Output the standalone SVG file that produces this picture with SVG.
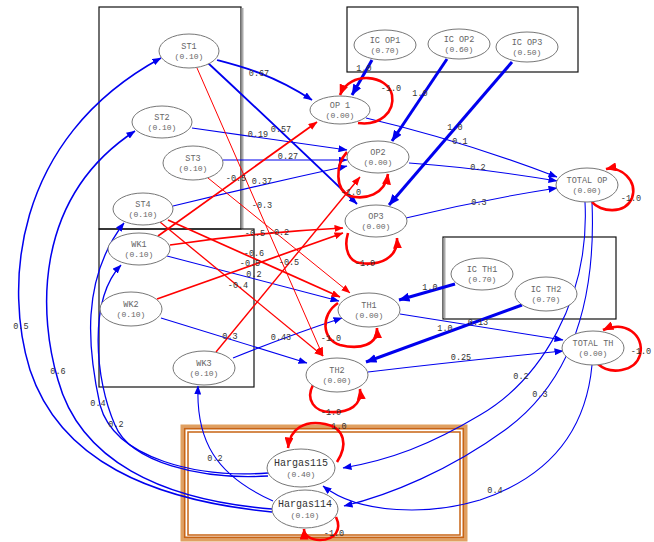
<svg xmlns="http://www.w3.org/2000/svg" width="654" height="542" viewBox="0 0 654 542">
<defs>
<marker id="ab" markerUnits="userSpaceOnUse" markerWidth="9" markerHeight="7" refX="8.5" refY="3.5" orient="auto"><path d="M0,0 L9,3.5 L0,7 z" fill="#0000ee"/></marker>
<marker id="abL" markerUnits="userSpaceOnUse" markerWidth="11" markerHeight="9" refX="10.5" refY="4.5" orient="auto"><path d="M0,0 L11,4.5 L0,9 z" fill="#0000ee"/></marker>
<marker id="ar" markerUnits="userSpaceOnUse" markerWidth="9" markerHeight="7" refX="8.5" refY="3.5" orient="auto"><path d="M0,0 L9,3.5 L0,7 z" fill="#ff0000"/></marker>
<marker id="arL" markerUnits="userSpaceOnUse" markerWidth="11" markerHeight="9" refX="10.5" refY="4.5" orient="auto"><path d="M0,0 L11,4.5 L0,9 z" fill="#ff0000"/></marker>
</defs>
<style>
.box{fill:none;stroke:#111;stroke-width:1.2}
.n ellipse{fill:#fff;stroke:#777;stroke-width:1}
.n text{font-family:"Liberation Mono",monospace;font-size:8.5px;fill:#666;text-anchor:middle}
.n text.v{font-size:8px}
.n text.h{font-size:10px;fill:#333}
.b{fill:none;stroke:#0000ee;stroke-width:1.1;marker-end:url(#ab)}
.bm{fill:none;stroke:#0000ee;stroke-width:1.8;marker-end:url(#ab)}
.bt{fill:none;stroke:#0000ee;stroke-width:3;marker-end:url(#abL)}
.r{fill:none;stroke:#ff0000;stroke-width:1;marker-end:url(#ar)}
.rm{fill:none;stroke:#ff0000;stroke-width:1.7;marker-end:url(#ar)}
.rl{fill:none;stroke:#ff0000;stroke-width:2.6;marker-end:url(#arL)}
.lb text{font-family:"Liberation Mono",monospace;font-size:8.5px;fill:#333;text-anchor:middle}
</style>
<rect width="654" height="542" fill="#fff"/>
<g id="boxes">
<rect class="box" x="99" y="7" width="142" height="222"/>
<line x1="242.5" y1="8" x2="242.5" y2="229" stroke="#aaa" stroke-width="2"/>
<rect class="box" x="99" y="229" width="155" height="158"/>
<rect class="box" x="347" y="7" width="231" height="65"/>
<rect class="box" x="443" y="237" width="173" height="82"/>
<line x1="444.5" y1="238" x2="444.5" y2="318" stroke="#aaa" stroke-width="2"/>
<rect x="182" y="426" width="284" height="114" fill="none" stroke="#e0a060" stroke-width="3"/>
<rect x="184.5" y="428.5" width="279" height="109" fill="none" stroke="#c86414" stroke-width="2"/>
<rect x="188" y="432" width="272" height="103" fill="none" stroke="#c86414" stroke-width="1.5"/>
</g>
<g id="connectors">
<path class="bm" d="M217,60 C240,66 272,74 312,100"/>
<path class="bm" d="M208,63 Q280,130 357,204"/>
<path class="b" d="M192,128 L347,150"/>
<path class="b" d="M223,160 L347,160"/>
<path class="b" d="M173,206 Q260,185 347,166"/>
<path class="b" d="M366,118 Q460,140 557,177"/>
<path class="b" d="M409,163 Q480,168 557,181"/>
<path class="b" d="M406,218 Q480,200 557,188"/>
<path class="bt" d="M372,60 L352,95"/>
<path class="bt" d="M447,59 L392,141"/>
<path class="bt" d="M512,62 L389,205"/>
<path class="b" d="M167,256 L339,301"/>
<path class="b" d="M161,318 L307,363"/>
<path class="b" d="M233,358 Q290,335 342,318"/>
<path class="b" d="M400,314 L563,340"/>
<path class="b" d="M368,372 Q470,360 563,351"/>
<path class="bt" d="M455,284 L399,300"/>
<path class="bt" d="M522,305 L366,362"/>
<path class="b" d="M585,202 C590,300 540,380 480,415 C430,445 390,460 343,468"/>
<path class="b" d="M592,202 C597,320 560,390 505,430 C450,470 390,495 344,506"/>
<path class="b" d="M592,365 C585,440 540,480 480,500 C430,515 360,515 323,486"/>
<path class="bm" style="stroke-width:1.5" d="M272,512 C150,500 60,460 30,370 C5,290 10,140 161,58"/>
<path class="bm" style="stroke-width:1.5" d="M272,509 C160,500 80,460 58,380 C40,320 30,200 135,131"/>
<path class="b" style="stroke-width:1.3" d="M268,473 C200,478 115,460 100,405 C88,350 80,280 124,223"/>
<path class="b" style="stroke-width:1.3" d="M268,476 C200,480 130,462 115,425 C95,380 88,300 121,265"/>
<path class="b" d="M273,501 C215,475 196,440 198,386"/>
<path class="rm" d="M158,236 L317,122"/>
<path class="r" d="M197,68 L323,356"/>
<path class="r" d="M208,178 L350,293"/>
<path class="rm" d="M170,245 Q260,232 343,228"/>
<path class="rm" d="M168,220 L340,297"/>
<path class="rm" d="M157,299 L343,233"/>
<path class="r" style="stroke-width:1.3" d="M160,222 L323,356"/>
<path class="rm" style="stroke-width:1.4" d="M216,352 L360,177"/>
<path class="rl" d="M358,123 C380,126 395,112 392,95 C388,75 350,70 340,95"/>
<path class="rl" d="M347,152 C335,165 335,190 350,196 C365,200 385,195 388,174"/>
<path class="rl" d="M348,233 C343,250 350,262 360,263 C380,266 398,258 397,238"/>
<path class="rl" d="M592,202 C600,212 625,215 632,198 C638,180 620,166 606,169"/>
<path class="rl" d="M338,303 C320,315 322,340 340,345 C360,350 378,345 377,328"/>
<path class="rl" d="M313,385 C305,400 315,412 330,412 C350,413 362,405 360,389"/>
<path class="rl" d="M598,364 C610,375 635,372 640,355 C645,335 625,320 603,330"/>
<path class="rl" d="M337,462 C348,445 345,428 325,424 C305,420 290,428 288,448"/>
<path class="rl" d="M336,517 C342,530 335,540 320,540 C310,540 304,535 304,529"/>
</g>
<g id="nodes">
<g class="n" id="ST1"><ellipse cx="189" cy="51" rx="30" ry="17"/><text x="189" y="49">ST1</text><text class="v" x="189" y="59">(0.10)</text></g>
<g class="n" id="ST2"><ellipse cx="162" cy="122" rx="30" ry="16"/><text x="162" y="120">ST2</text><text class="v" x="162" y="130">(0.10)</text></g>
<g class="n" id="ST3"><ellipse cx="193" cy="163" rx="30" ry="17"/><text x="193" y="161">ST3</text><text class="v" x="193" y="171">(0.10)</text></g>
<g class="n" id="ST4"><ellipse cx="143" cy="209" rx="30" ry="16"/><text x="143" y="207">ST4</text><text class="v" x="143" y="217">(0.10)</text></g>
<g class="n" id="WK1"><ellipse cx="139" cy="249" rx="31" ry="16"/><text x="139" y="247">WK1</text><text class="v" x="139" y="257">(0.10)</text></g>
<g class="n" id="WK2"><ellipse cx="131" cy="309" rx="31" ry="17"/><text x="131" y="307">WK2</text><text class="v" x="131" y="317">(0.10)</text></g>
<g class="n" id="WK3"><ellipse cx="204" cy="368" rx="31" ry="17"/><text x="204" y="366">WK3</text><text class="v" x="204" y="376">(0.10)</text></g>
<g class="n" id="OP1"><ellipse cx="340" cy="110" rx="30" ry="14"/><text x="340" y="108">OP 1</text><text class="v" x="340" y="118">(0.00)</text></g>
<g class="n" id="ICOP1"><ellipse cx="385" cy="45" rx="31" ry="15"/><text x="385" y="43">IC OP1</text><text class="v" x="385" y="53">(0.70)</text></g>
<g class="n" id="ICOP2"><ellipse cx="459" cy="44" rx="31" ry="15"/><text x="459" y="42">IC OP2</text><text class="v" x="459" y="52">(0.60)</text></g>
<g class="n" id="ICOP3"><ellipse cx="527" cy="47" rx="31" ry="15"/><text x="527" y="45">IC OP3</text><text class="v" x="527" y="55">(0.50)</text></g>
<g class="n" id="OP2"><ellipse cx="378" cy="157" rx="31" ry="16"/><text x="378" y="155">OP2</text><text class="v" x="378" y="165">(0.00)</text></g>
<g class="n" id="OP3"><ellipse cx="376" cy="221" rx="31" ry="16"/><text x="376" y="219">OP3</text><text class="v" x="376" y="229">(0.00)</text></g>
<g class="n" id="TOTALOP"><ellipse cx="587" cy="185" rx="31" ry="17"/><text x="587" y="183">TOTAL OP</text><text class="v" x="587" y="193">(0.00)</text></g>
<g class="n" id="TH1"><ellipse cx="369" cy="310" rx="31" ry="17"/><text x="369" y="308">TH1</text><text class="v" x="369" y="318">(0.00)</text></g>
<g class="n" id="TH2"><ellipse cx="337" cy="375" rx="31" ry="17"/><text x="337" y="373">TH2</text><text class="v" x="337" y="383">(0.00)</text></g>
<g class="n" id="ICTH1"><ellipse cx="482" cy="274" rx="31" ry="16"/><text x="482" y="272">IC TH1</text><text class="v" x="482" y="282">(0.70)</text></g>
<g class="n" id="ICTH2"><ellipse cx="546" cy="294" rx="31" ry="17"/><text x="546" y="292">IC TH2</text><text class="v" x="546" y="302">(0.70)</text></g>
<g class="n" id="TOTALTH"><ellipse cx="593" cy="348" rx="31" ry="17"/><text x="593" y="346">TOTAL TH</text><text class="v" x="593" y="356">(0.00)</text></g>
<g class="n" id="Hargas115"><ellipse cx="301" cy="468" rx="34" ry="19"/><text class="h" x="301" y="466">Hargas115</text><text class="v" x="301" y="477">(0.40)</text></g>
<g class="n" id="Hargas114"><ellipse cx="305" cy="509" rx="33" ry="19"/><text class="h" x="305" y="507">Hargas114</text><text class="v" x="305" y="518">(0.10)</text></g>
</g>
<g class="lb" id="labels">
<text x="259" y="76">0.67</text>
<text x="281" y="132">0.57</text>
<text x="258" y="137">0.19</text>
<text x="288" y="159">0.27</text>
<text x="262" y="184">0.37</text>
<text x="236" y="181">-0.5</text>
<text x="460" y="144">0.1</text>
<text x="478" y="170">0.2</text>
<text x="479" y="205">0.3</text>
<text x="364" y="71">1.0</text>
<text x="420" y="96">1.0</text>
<text x="455" y="130">1.0</text>
<text x="391" y="91">-1.0</text>
<text x="351" y="195">-1.0</text>
<text x="365" y="266">-1.0</text>
<text x="631" y="201">-1.0</text>
<text x="262" y="208">-0.3</text>
<text x="255" y="236">-0.5</text>
<text x="279" y="235">-0.2</text>
<text x="254" y="256">-0.6</text>
<text x="250" y="266">-0.5</text>
<text x="289" y="265">-0.5</text>
<text x="254" y="277">0.2</text>
<text x="238" y="288">-0.4</text>
<text x="230" y="339">0.3</text>
<text x="281" y="340">0.43</text>
<text x="430" y="290">1.0</text>
<text x="445" y="331">1.0</text>
<text x="478" y="325">0.13</text>
<text x="461" y="360">0.25</text>
<text x="331" y="341">-1.0</text>
<text x="331" y="415">-1.0</text>
<text x="641" y="354">-1.0</text>
<text x="521" y="379">0.2</text>
<text x="540" y="397">0.3</text>
<text x="495" y="493">0.4</text>
<text x="21" y="329">0.5</text>
<text x="58" y="374">0.6</text>
<text x="98" y="406">0.4</text>
<text x="116" y="427">0.2</text>
<text x="215" y="461">0.2</text>
<text x="339" y="429">1.0</text>
<text x="334" y="536">-1.0</text>
</g>
</svg>
